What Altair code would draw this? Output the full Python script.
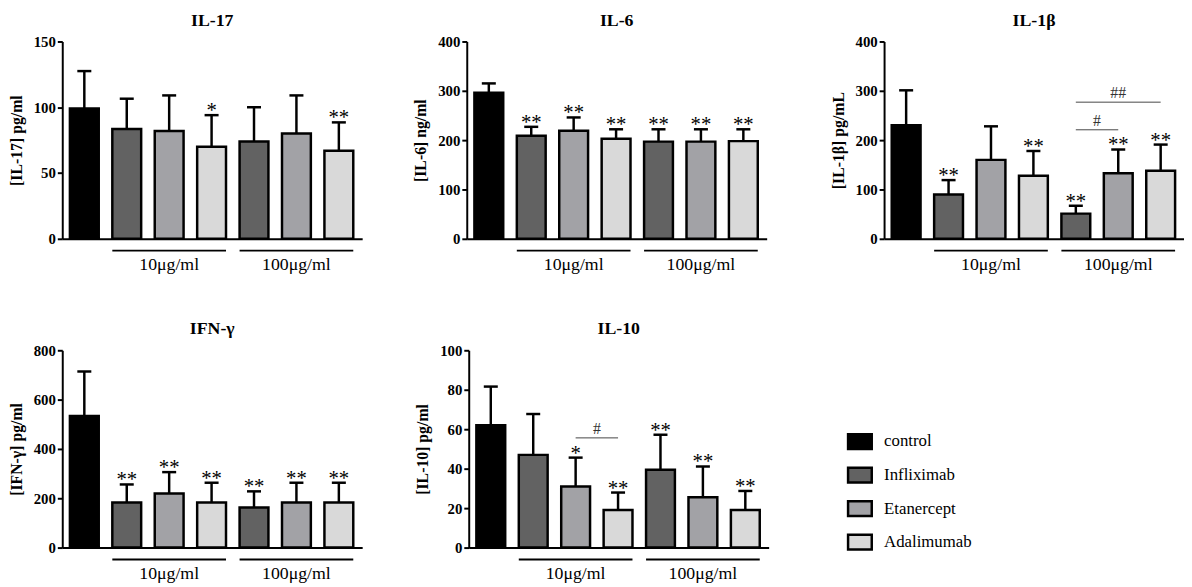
import altair as alt
import pandas as pd

SERIF = "Liberation Serif"

treatments = ["control", "Infliximab", "Etanercept", "Adalimumab",
              "Infliximab", "Etanercept", "Adalimumab"]
legend_order = ["control", "Infliximab", "Etanercept", "Adalimumab"]
colors = ["#000000", "#626262", "#a2a2a6", "#d9d9d9"]
dose_labels = ["10μg/ml", "100μg/ml"]
dose_start = [1, 4]
dose_end = [3, 6]

il17_mean = [99, 83.5, 82, 70, 74, 80, 67]
il17_sd = [28.5, 23, 27, 24, 26, 29, 21.5]
il17_sig = ["", "", "", "*", "", "", "**"]

il6_mean = [296, 209, 219, 203, 197, 197, 198]
il6_sd = [19, 18, 27, 19, 25, 25, 24]
il6_sig = ["", "**", "**", "**", "**", "**", "**"]

il1b_mean = [230, 90, 160, 128, 51, 133, 138]
il1b_sd = [71, 29, 68, 50, 16, 48, 53]
il1b_sig = ["", "**", "", "**", "**", "**", "**"]
il1b_br_from = [4, 4]
il1b_br_to = [5, 6]
il1b_br_y = [221, 277]
il1b_br_lab = ["#", "##"]

ifn_mean = [534, 183, 219, 183, 163, 183, 183]
ifn_sd = [180, 73, 87, 80, 65, 80, 80]
ifn_sig = ["", "**", "**", "**", "**", "**", "**"]

il10_mean = [62, 47, 31, 19, 39.5, 25.5, 19]
il10_sd = [19.6, 20.7, 14.6, 8.9, 17.7, 15.6, 9.7]
il10_sig = ["", "", "*", "**", "**", "**", "**"]
il10_br_from = [2]
il10_br_to = [3]
il10_br_y = [55.6]
il10_br_lab = ["#"]

W = 304
H = 200
HALF = 0.34
CAP = 0.165


def panel(title, ytitle, ymax, ystep, means, sds, sigs,
          br_from=(), br_to=(), br_y=(), br_lab=()):
    n = len(means)
    df = pd.DataFrame({
        "idx": list(range(n)),
        "treatment": treatments,
        "mean": means,
        "top": [m + s for m, s in zip(means, sds)],
        "sig": sigs,
    })
    df["lo"] = df["idx"] - HALF
    df["hi"] = df["idx"] + HALF
    df["cl"] = df["idx"] - CAP
    df["cr"] = df["idx"] + CAP
    df["zero"] = 0

    xs = alt.Scale(domain=[-0.52, 6.55], nice=False, zero=False)
    ys = alt.Scale(domain=[0, ymax], nice=False)
    xaxis = alt.Axis(domainColor="black", domainWidth=2, ticks=False,
                     labels=False, grid=False, title=None)
    yaxis = alt.Axis(values=list(range(0, ymax + 1, ystep)), grid=False,
                     labelOverlap=False,
                     domainColor="black", domainWidth=2, tickColor="black",
                     tickWidth=2, tickSize=5, labelFont=SERIF,
                     labelFontWeight="bold", labelFontSize=15,
                     labelColor="black", labelPadding=2, title=ytitle,
                     titleFont=SERIF, titleFontWeight="bold",
                     titleFontSize=16, titleColor="black", titlePadding=9)

    def X(f):
        return alt.X(f, scale=xs, axis=xaxis)

    def Y(f):
        return alt.Y(f, scale=ys, axis=yaxis)

    base = alt.Chart(df)
    legend = alt.Legend(orient="none", legendX=795, legendY=392, title=None,
                        symbolType="M-1,-0.625H1V0.625H-1Z", symbolSize=576,
                        symbolStrokeColor="black", symbolStrokeWidth=2.5,
                        labelFont=SERIF, labelFontSize=17,
                        labelColor="black", rowPadding=8, labelOffset=11)
    rect = base.mark_rect(stroke="black", strokeWidth=2.5).encode(
        x=X("lo:Q"), x2="hi", y=Y("mean:Q"), y2="zero",
        color=alt.Color("treatment:N",
                        scale=alt.Scale(domain=legend_order, range=colors),
                        legend=legend),
    )
    err = base.mark_rule(color="black", strokeWidth=2.5).encode(
        x=X("idx:Q"), y=Y("mean:Q"), y2="top")
    cap = base.mark_rule(color="black", strokeWidth=2.5).encode(
        x=X("cl:Q"), x2="cr", y=Y("top:Q"))
    star = base.mark_text(font=SERIF, fontSize=21, baseline="alphabetic",
                          dy=2, color="black").encode(
        x=X("idx:Q"), y=Y("top:Q"), text="sig:N")

    gdf = pd.DataFrame({"label": dose_labels, "s": dose_start, "e": dose_end})
    gdf["gs"] = gdf["s"] - HALF
    gdf["ge"] = gdf["e"] + HALF
    gdf["gc"] = (gdf["s"] + gdf["e"]) / 2
    gline = alt.Chart(gdf).mark_rule(color="black", strokeWidth=2).encode(
        x=X("gs:Q"), x2="ge", y=alt.value(H + 12))
    gtext = alt.Chart(gdf).mark_text(font=SERIF, fontSize=18,
                                     baseline="middle", color="black").encode(
        x=X("gc:Q"), y=alt.value(H + 27), text="label:N")

    layers = [rect, err, cap, star, gline, gtext]
    if len(br_from):
        bdf = pd.DataFrame({"f": list(br_from), "t": list(br_to),
                            "y": list(br_y), "lab": list(br_lab)})
        bdf["c"] = (bdf["f"] + bdf["t"]) / 2
        bl = alt.Chart(bdf).mark_rule(color="#444444", strokeWidth=1).encode(
            x=X("f:Q"), x2="t", y=Y("y:Q"))
        bt = alt.Chart(bdf).mark_text(font=SERIF, fontSize=16,
                                      baseline="bottom", dy=-1,
                                      color="#333333").encode(
            x=X("c:Q"), y=Y("y:Q"), text="lab:N")
        layers += [bl, bt]

    return alt.layer(*layers).properties(
        width=W, height=H,
        title=alt.TitleParams(title, font=SERIF, fontSize=18,
                              fontWeight="bold", color="black", offset=5))


p1 = panel("IL-17", "[IL-17] pg/ml", 150, 50, il17_mean, il17_sd, il17_sig)
p2 = panel("IL-6", "[IL-6] ng/ml", 400, 100, il6_mean, il6_sd, il6_sig)
p3 = panel("IL-1β", "[IL-1β] pg/mL", 400, 100, il1b_mean, il1b_sd, il1b_sig,
           il1b_br_from, il1b_br_to, il1b_br_y, il1b_br_lab)
p4 = panel("IFN-γ", "[IFN-γ] pg/ml", 800, 200, ifn_mean, ifn_sd, ifn_sig)
p5 = panel("IL-10", "[IL-10] pg/ml", 100, 20, il10_mean, il10_sd, il10_sig,
           il10_br_from, il10_br_to, il10_br_y, il10_br_lab)

row1 = alt.hconcat(alt.hconcat(p1, p2, spacing=51), p3, spacing=64)
row2 = alt.hconcat(p4, p5, spacing=53)
chart = alt.vconcat(row1, row2, spacing=47).properties(
    padding=0, background="white"
).configure_view(stroke=None)

chart.save("out.html", embed_options={"renderer": "svg", "actions": False})
